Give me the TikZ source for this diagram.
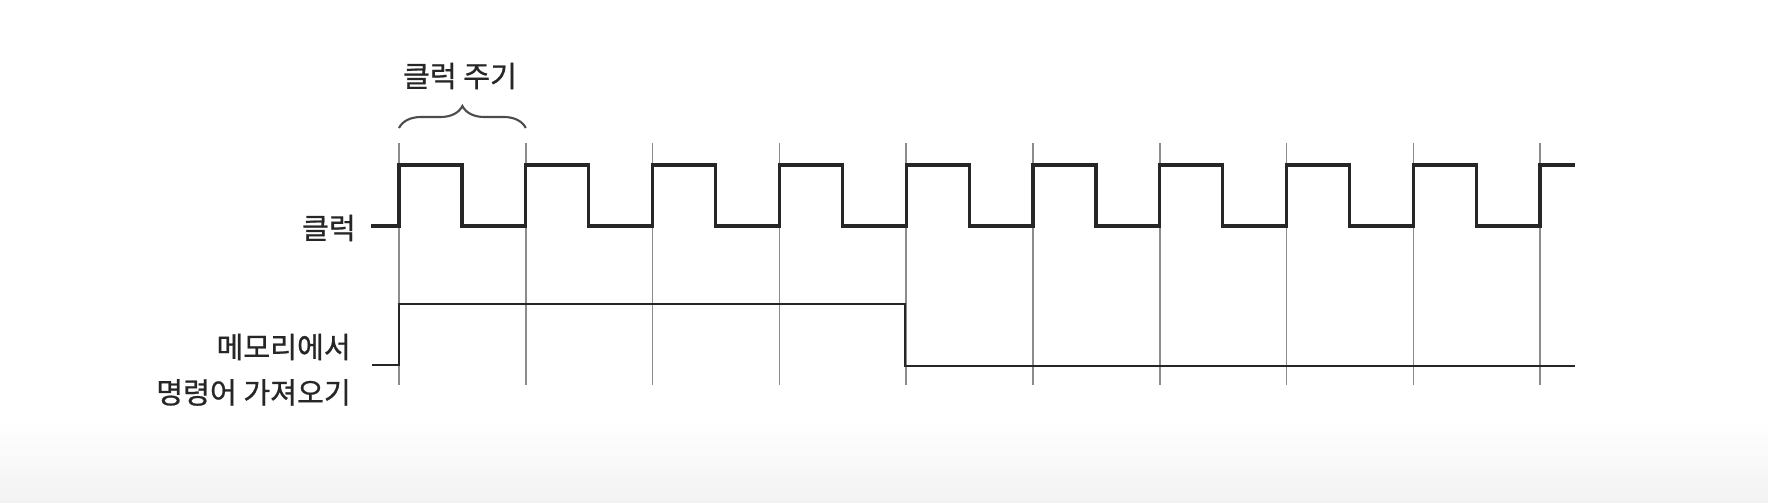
\documentclass[tikz,border=0pt]{standalone}
\usepackage{fontspec}
\newfontfamily\kofont[FakeBold=0.8]{Noto Sans CJK KR}
\usetikzlibrary{positioning, decorations.pathreplacing}

\begin{document}
\begin{tikzpicture}[
        x=0.01cm, y=-0.01cm,
        lbl/.style={font=\kofont\fontsize{8.3pt}{10pt}\selectfont, text=black!85, inner sep=1pt},
        grid/.style={draw=black!45, line width=0.45pt},
        signal/.style={draw=black!85, line width=0.9pt, line join=miter},
        fetch/.style={draw=black!85, line width=0.7pt},
        period/.style={draw=black!70, line width=0.6pt, decorate, decoration={brace, amplitude=0.22cm}}
    ]
    \useasboundingbox (0,0) rectangle (1768,502);
    \shade[top color=white, bottom color=black!5] (0,420) rectangle (1768,502);

    % Grid
    \foreach \i in {0,...,9}
        \draw[grid] ({399+\i*126.8},143) -- ({399+\i*126.8},385);

    % Labels
    \node[lbl, anchor=east] (clklbl) at (360,228) {클럭};
    \node[lbl, anchor=east] (memlbl) at (355,347) {메모리에서};
    \node[lbl, anchor=north east] (fetchlbl) at ([yshift=-3pt]memlbl.south east) {명령어 가져오기};
    \node[lbl] (periodlbl) at (460,76) {클럭 주기};

    % Brace
    \coordinate (p0) at (399,128);
    \coordinate (p1) at (525.8,128);
    \draw[period] (p0) -- (p1);

    % Clock
    \draw[signal] (371,226)
        foreach \i in {0,...,8} {
            -- ({399+\i*126.8},226) -- ({399+\i*126.8},165)
            -- ({462+\i*126.8},165) -- ({462+\i*126.8},226)
        } -- (1540,226) -- (1540,165) -- (1575,165);

    % Fetch
    \draw[fetch] (372,365) -- (399,365) -- (399,304) -- (905,304) -- (905,366) -- (1575,366);
\end{tikzpicture}
\end{document}
